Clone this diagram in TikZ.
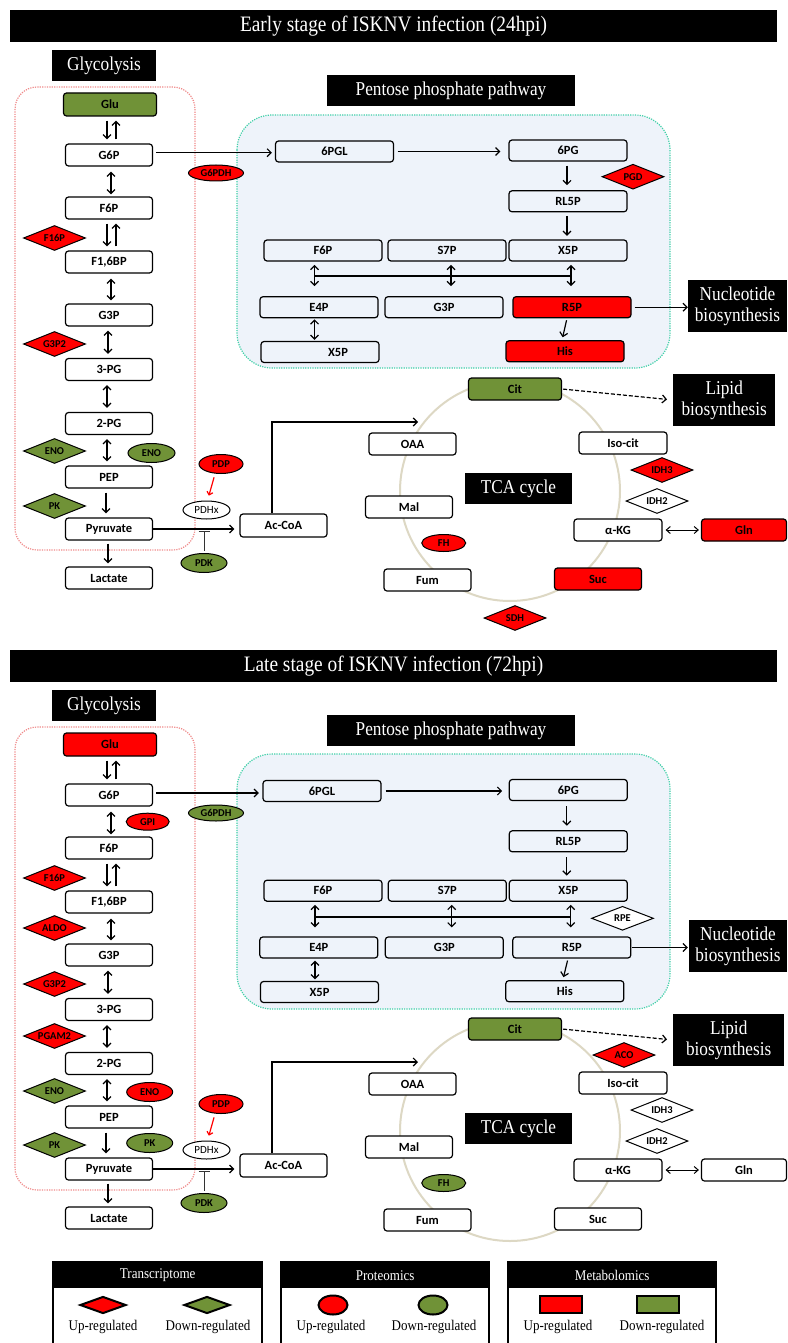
\documentclass[tikz,border=0pt]{standalone}
\usepackage{fontspec}
\setmainfont{Liberation Serif}[FakeStretch=0.88]
\newfontfamily\carl{Carlito}
\usetikzlibrary{shapes.geometric,arrows.meta}
\definecolor{upred}{HTML}{FF0000}
\definecolor{dngreen}{HTML}{709237}
\definecolor{pppbg}{HTML}{EEF3FA}
\definecolor{pppbd}{HTML}{40D0A8}
\definecolor{glybd}{HTML}{F08A8A}
\definecolor{tcacirc}{HTML}{DDD8C4}
\tikzset{
 met/.style={draw, rounded corners=3pt, line width=1.2pt, minimum width=87pt, minimum height=22pt, inner sep=0pt, fill=white, font=\carl\bfseries\fontsize{12.5}{13}\selectfont},
 pmet/.style={met, minimum width=118pt, minimum height=21pt, fill=pppbg},
 upf/.style={fill=upred},
 dnf/.style={fill=dngreen},
 tdia/.style={diamond, aspect=2.5, draw, line width=1pt, minimum width=62pt, minimum height=25pt, inner sep=0pt, font=\carl\bfseries\fontsize{10.5}{11}\selectfont},
 pell/.style={ellipse, draw, line width=1pt, minimum width=46pt, minimum height=19pt, inner sep=0pt, font=\carl\bfseries\fontsize{10.5}{11}\selectfont},
 blab/.style={fill=black, text=white, inner sep=0pt, align=center, font=\fontsize{19.6}{21}\selectfont},
 arr/.style={-{Straight Barb[length=4pt,width=8pt]}, line width=1.2pt, shorten <=4pt, shorten >=4pt},
 darr/.style={{Straight Barb[length=4pt,width=8pt]}-{Straight Barb[length=4pt,width=8pt]}, line width=1.2pt, shorten <=4pt, shorten >=4pt},
 legtxt/.style={font=\fontsize{14.8}{15}\selectfont, inner sep=0pt},
 leghead/.style={fill=black, text=white, minimum width=209pt, minimum height=26pt, inner sep=0pt, anchor=north west, font=\fontsize{14.8}{15}\selectfont},
}
% glycolysis column: #1 prefix, #2 vertical offset, #3 Glu fill
\newcommand\glyc[3]{%
\begin{scope}[shift={(0,#2)}]
\draw[glybd, line width=1.2pt, dash pattern=on 1.2pt off 1.2pt, rounded corners=22pt] (15,87) rectangle (195,550);
\node[blab, minimum width=104pt, minimum height=31pt] (#1GL) at (104,65.5) {Glycolysis};
\node[met, #3, minimum width=93pt, minimum height=23pt] (#1Glu) at (110,104.5) {Glu};
\node[met] (#1G6P) at (109,155) {G6P};
\node[met] (#1F6P) at (109,208) {F6P};
\node[met] (#1FBP) at (109,262) {F1,6BP};
\node[met] (#1G3P) at (109,315) {G3P};
\node[met] (#1TPG) at (109,369.5) {3-PG};
\node[met] (#1DPG) at (109,423.5) {2-PG};
\node[met] (#1PEP) at (109,477) {PEP};
\node[met] (#1Pyr) at (109,529) {Pyruvate};
\node[met] (#1Lac) at (109,578) {Lactate};
\draw[arr] ([xshift=-3pt]#1Glu.south) -- ([xshift=-2pt]#1G6P.north);
\draw[arr] ([xshift=7pt]#1G6P.north) -- ([xshift=6pt]#1Glu.south);
\draw[darr, shorten <=5pt, shorten >=2pt] ([xshift=2pt]#1G6P.south) -- ([xshift=2pt]#1F6P.north);
\draw[arr] ([xshift=-2pt]#1F6P.south) -- ([xshift=-2pt]#1FBP.north);
\draw[arr] ([xshift=7pt]#1FBP.north) -- ([xshift=7pt]#1F6P.south);
\draw[darr, shorten <=5pt, shorten >=3pt] ([xshift=2pt]#1FBP.south) -- ([xshift=2pt]#1G3P.north);
\draw[darr] ([xshift=-1pt]#1G3P.south) -- ([xshift=-1pt]#1TPG.north);
\draw[darr] ([xshift=-2pt]#1TPG.south) -- ([xshift=-2pt]#1DPG.north);
\draw[darr] ([xshift=-2pt]#1DPG.south) -- ([xshift=-2pt]#1PEP.north);
\draw[arr] ([xshift=-3pt]#1PEP.south) -- ([xshift=-3pt]#1Pyr.north);
\draw[arr, shorten <=3pt, shorten >=3pt] ([xshift=-1pt]#1Pyr.south) -- ([xshift=-1pt]#1Lac.north);
\node[pell, fill=white, minimum width=47pt, minimum height=18pt, font=\carl\fontsize{11}{11}\selectfont] (#1PDHx) at (206.5,510) {PDHx};
\node[pell, upf, minimum width=44pt] (#1PDP) at (221,464) {PDP};
\node[pell, dnf] (#1PDK) at (204,563) {PDK};
\node[met, minimum height=23pt] (#1Ac) at (283.5,525.5) {Ac-CoA};
\draw[arr, shorten <=0pt, shorten >=5pt] (#1Pyr.east) -- (#1Pyr.east -| #1Ac.west);
\draw[-{Bar[width=11pt]}, line width=1pt, black!80] ([yshift=2pt]#1PDK.north) -- ([yshift=22pt]#1PDK.north);
\draw[red, line width=1.2pt, -{Straight Barb[length=3pt,width=6pt]}, shorten <=3.5pt, shorten >=5pt] ([xshift=-6pt]#1PDP.south) -- ([xshift=1pt]#1PDHx.north);
\coordinate (#1AE) at (418,422);
\draw[arr, shorten <=0pt, shorten >=0pt] ([xshift=-11.5pt]#1Ac.north) |- (#1AE);
\end{scope}}
% TCA cycle: #1 prefix, #2 offset, #3 Cit fill, #4 Suc fill, #5 Gln fill, #6 lipid width
\newcommand\tcac[6]{%
\begin{scope}[shift={(0,#2)}]
\draw[tcacirc, line width=2pt] (510,491) circle[radius=110pt];
\node[met, #3, minimum width=93pt] (#1Cit) at (515,389) {Cit};
\node[blab, minimum width=#6, minimum height=52pt, anchor=west] (#1Lip) at (673,400) {Lipid\\biosynthesis};
\draw[arr, dash pattern=on 4pt off 2pt, shorten <=1pt, shorten >=6pt] (#1Cit.east) -- (#1Lip.west);
\node[met] (#1OAA) at (412.5,444) {OAA};
\node[met, minimum width=88pt] (#1Iso) at (623,443) {Iso-cit};
\node[met, minimum width=88pt] (#1aKG) at (618,530) {α-KG};
\node[met, #5, minimum width=85pt] (#1Gln) at (744,530) {Gln};
\draw[{Straight Barb[length=4pt,width=7pt]}-{Straight Barb[length=4pt,width=7pt]}, line width=1pt, shorten <=3pt, shorten >=2pt] (#1aKG.east) -- (#1Gln.west);
\node[blab, minimum width=107pt, minimum height=31pt] (#1TCA) at (518.5,488.5) {TCA cycle};
\node[met] (#1Mal) at (409,507) {Mal};
\node[met] (#1Fum) at (427.5,580) {Fum};
\node[met, #4] (#1Suc) at (598,579) {Suc};
\end{scope}}
\begin{document}
\begin{tikzpicture}[x=1pt,y=-1pt]
\useasboundingbox (0,0) rectangle (787,1343);
\fill[white] (0,0) rectangle (787,1343);
% ---------- titles
\node[blab, minimum width=767pt, minimum height=32pt, font=\fontsize{22}{24}\selectfont] (eT) at (393.5,26) {Early stage of ISKNV infection (24hpi)};
\node[blab, minimum width=767pt, minimum height=32pt, font=\fontsize{22}{24}\selectfont] (lT) at (393.5,666) {Late stage of ISKNV infection (72hpi)};
% ---------- PPP early
\draw[pppbd, fill=pppbg, line width=1.2pt, dash pattern=on 1.2pt off 1.2pt, rounded corners=35pt] (237,115) rectangle (670,368);
\node[blab, minimum width=248pt, minimum height=31pt] (ePPL) at (451,91) {Pentose phosphate pathway};
\node[pmet] (e6PGL) at (334.5,151.5) {6PGL};
\node[pmet] (e6PG) at (568,150.5) {6PG};
\node[pmet] (eRL5P) at (568,201.3) {RL5P};
\node[pmet] (ePF6P) at (323,250.5) {F6P};
\node[pmet] (eS7P) at (447,250.5) {S7P};
\node[pmet] (eX5P) at (568,250.5) {X5P};
\node[pmet] (eE4P) at (319,307.2) {E4P};
\node[pmet] (ePG3P) at (444,307.2) {G3P};
\node[pmet, upf] (eR5P) at (572,307.2) {R5P};
\node[pmet] (eX5Pb) at (320,352) {\hspace*{36pt}X5P};
\node[pmet, upf] (eHis) at (565,351.3) {His};
\node[blab, minimum width=99pt, minimum height=52pt] (eNuc) at (737.5,306) {Nucleotide\\biosynthesis};
% ---------- PPP late
\draw[pppbd, fill=pppbg, line width=1.2pt, dash pattern=on 1.2pt off 1.2pt, rounded corners=35pt] (237,754) rectangle (670,1009);
\node[blab, minimum width=248pt, minimum height=31pt] (lPPL) at (451,730.5) {Pentose phosphate pathway};
\node[pmet] (l6PGL) at (322,791) {6PGL};
\node[pmet] (l6PG) at (568.3,790) {6PG};
\node[pmet] (lRL5P) at (568.3,841.3) {RL5P};
\node[pmet] (lPF6P) at (323,890.7) {F6P};
\node[pmet] (lS7P) at (447.3,890.7) {S7P};
\node[pmet] (lX5P) at (568.3,890.7) {X5P};
\node[pmet] (lE4P) at (318.8,947.5) {E4P};
\node[pmet] (lPG3P) at (444.3,947.5) {G3P};
\node[pmet] (lR5P) at (571.8,947.5) {R5P};
\node[pmet] (lX5Pb) at (319.5,992) {X5P};
\node[pmet] (lHis) at (564.8,991.2) {His};
\node[blab, minimum width=98pt, minimum height=52pt] (lNuc) at (738,946) {Nucleotide\\biosynthesis};
% ---------- glycolysis and TCA
\glyc{e}{0}{dnf}
\glyc{l}{640}{upf}
\tcac{e}{0}{dnf}{upf}{upf}{102pt}
\tcac{l}{640}{dnf}{fill=white}{fill=white}{111pt}
% ---------- PPP arrows early
\draw[arr, shorten <=3pt, shorten >=3pt] ([yshift=2.3pt]eG6P.east) -- ([yshift=2.3pt]eG6P.east -| e6PGL.west);
\draw[arr, shorten <=3.5pt, shorten >=8pt] (e6PGL.east) -- (e6PGL.east -| e6PG.west);
\draw[arr, shorten <=4pt, shorten >=5pt] ([xshift=-1pt]e6PG.south) -- ([xshift=-1pt]eRL5P.north);
\draw[arr, shorten <=3.5pt, shorten >=3.5pt] ([xshift=-1pt]eRL5P.south) -- ([xshift=-1pt]eX5P.north);
\draw[darr, shorten <=3.3pt, shorten >=10pt] ([xshift=-8.5pt]ePF6P.south) -- coordinate[pos=0.42] (eb1) ([xshift=-4.5pt]eE4P.north);
\draw[darr, shorten <=3.3pt, shorten >=10pt] ([xshift=4pt]eS7P.south) -- coordinate[pos=0.42] (eb2) ([xshift=7pt]ePG3P.north);
\draw[darr, shorten <=3.3pt, shorten >=10pt] ([xshift=3pt]eX5P.south) -- coordinate[pos=0.42] (eb3) ([xshift=-1pt]eR5P.north);
\draw[line width=2pt] (eb1) -- (eb3);
\draw[darr, shorten <=1pt, shorten >=1pt] ([xshift=-4.5pt]eE4P.south) -- ([xshift=-5.5pt]eX5Pb.north);
\draw[arr, shorten <=2pt, shorten >=3pt] ([xshift=-5pt]eR5P.south) -- ([xshift=-3pt]eHis.north);
\draw[arr, shorten <=3pt, shorten >=0pt] (eR5P.east) -- (eR5P.east -| eNuc.west);
% ---------- PPP arrows late
\draw[arr, shorten <=3pt, shorten >=3.5pt] ([yshift=2pt]lG6P.east) -- ([yshift=2pt]lG6P.east -| l6PGL.west);
\draw[arr, shorten <=4pt, shorten >=6.5pt] (l6PGL.east) -- (l6PGL.east -| l6PG.west);
\draw[arr, shorten <=5pt, shorten >=4.5pt] ([xshift=-1.5pt]l6PG.south) -- ([xshift=-1.5pt]lRL5P.north);
\draw[arr, shorten <=5pt, shorten >=4pt] ([xshift=-1.5pt]lRL5P.south) -- ([xshift=-1.5pt]lX5P.north);
\draw[darr, shorten <=3pt, shorten >=9pt] ([xshift=-8pt]lPF6P.south) -- coordinate[pos=0.43] (lb1) ([xshift=-3.8pt]lE4P.north);
\draw[darr, shorten <=3pt, shorten >=9pt] ([xshift=4.4pt]lS7P.south) -- coordinate[pos=0.43] (lb2) ([xshift=7.4pt]lPG3P.north);
\draw[darr, shorten <=3pt, shorten >=9pt] ([xshift=2.4pt]lX5P.south) -- coordinate[pos=0.43] (lb3) ([xshift=-1.1pt]lR5P.north);
\draw[line width=2pt] (lb1) -- (lb3);
\draw[darr, shorten <=2pt, shorten >=1.5pt] ([xshift=-3.8pt]lE4P.south) -- ([xshift=-4.5pt]lX5Pb.north);
\draw[arr, shorten <=2pt, shorten >=3pt] ([xshift=-3.8pt]lR5P.south) -- ([xshift=-2pt]lHis.north);
\draw[arr, shorten <=1pt, shorten >=1pt] (lR5P.east) -- (lR5P.east -| lNuc.west);
% ---------- enzymes early
\node[pell, upf, minimum width=55pt, minimum height=16pt] (eG6PDH) at (216,173) {G6PDH};
\node[tdia, upf] (eF16P) at (54.5,238) {F16P};
\node[tdia, upf] (eG3P2) at (54.5,344) {G3P2};
\node[tdia, dnf] (eENOt) at (54.5,451) {ENO};
\node[pell, dnf, minimum width=47pt] (eENOp) at (151.5,453) {ENO};
\node[tdia, dnf] (ePKt) at (54.5,506) {PK};
\node[tdia, upf] (ePGD) at (633,176.7) {PGD};
\node[tdia, upf] (eIDH3) at (662,470) {IDH3};
\node[tdia, fill=white] (eIDH2) at (657,501) {IDH2};
\node[pell, upf, minimum width=44pt, minimum height=17pt] (eFH) at (443.7,543) {FH};
\node[tdia, upf] (eSDH) at (515,618) {SDH};
% ---------- enzymes late
\node[pell, dnf, minimum width=55pt, minimum height=16pt] (lG6PDH) at (216,813) {G6PDH};
\node[pell, upf, minimum width=43pt, minimum height=17pt] (lGPI) at (147.7,821.7) {GPI};
\node[tdia, upf] (lF16P) at (54.5,878) {F16P};
\node[tdia, upf] (lALDO) at (54.5,928) {ALDO};
\node[tdia, upf] (lG3P2) at (54.5,984) {G3P2};
\node[tdia, upf] (lPGAM2) at (54.5,1036) {PGAM2};
\node[tdia, dnf] (lENOt) at (54.5,1091) {ENO};
\node[pell, upf] (lENOp) at (149.7,1092) {ENO};
\node[tdia, dnf] (lPKt) at (54.5,1145) {PK};
\node[pell, dnf] (lPKp) at (149.7,1143) {PK};
\node[tdia, fill=white, minimum height=24pt] (lRPE) at (622.5,918.3) {RPE};
\node[tdia, upf] (lACO) at (624,1055) {ACO};
\node[tdia, fill=white] (lIDH3) at (662,1110) {IDH3};
\node[tdia, fill=white] (lIDH2) at (657,1141) {IDH2};
\node[pell, dnf, minimum width=44pt, minimum height=17pt] (lFH) at (443.7,1183) {FH};
% ---------- legend
\draw[line width=1.5pt] (53,1262) rectangle (262,1360);
\draw[line width=1.5pt] (281,1262) rectangle (489,1360);
\draw[line width=1.5pt] (508,1262) rectangle (716,1360);
\node[leghead] (lgh1) at (53,1262) {Transcriptome};
\node[leghead, minimum width=208pt] (lgh2) at (281,1262) {Proteomics};
\node[leghead, minimum width=208pt] (lgh3) at (508,1262) {Metabolomics};
\node[tdia, upf, minimum width=46pt, minimum height=17pt, line width=2pt] (lg1u) at (103,1305) {};
\node[tdia, dnf, minimum width=46pt, minimum height=17pt, line width=2pt] (lg1d) at (207,1305) {};
\node[ellipse, draw, upf, line width=2pt, minimum width=29pt, minimum height=19pt, inner sep=0pt] (lg2u) at (333,1305) {};
\node[ellipse, draw, dnf, line width=2pt, minimum width=29pt, minimum height=19pt, inner sep=0pt] (lg2d) at (433,1305) {};
\node[draw, upf, line width=2pt, minimum width=42pt, minimum height=17pt, inner sep=0pt] (lg3u) at (561,1304) {};
\node[draw, dnf, line width=2pt, minimum width=42pt, minimum height=17pt, inner sep=0pt] (lg3d) at (657.5,1304) {};
\node[legtxt] (lt1u) at (103,1327) {Up-regulated};
\node[legtxt] (lt1d) at (208,1327) {Down-regulated};
\node[legtxt] (lt2u) at (331,1327) {Up-regulated};
\node[legtxt] (lt2d) at (434,1327) {Down-regulated};
\node[legtxt] (lt3u) at (558,1327) {Up-regulated};
\node[legtxt] (lt3d) at (662,1327) {Down-regulated};
\end{tikzpicture}
\end{document}
